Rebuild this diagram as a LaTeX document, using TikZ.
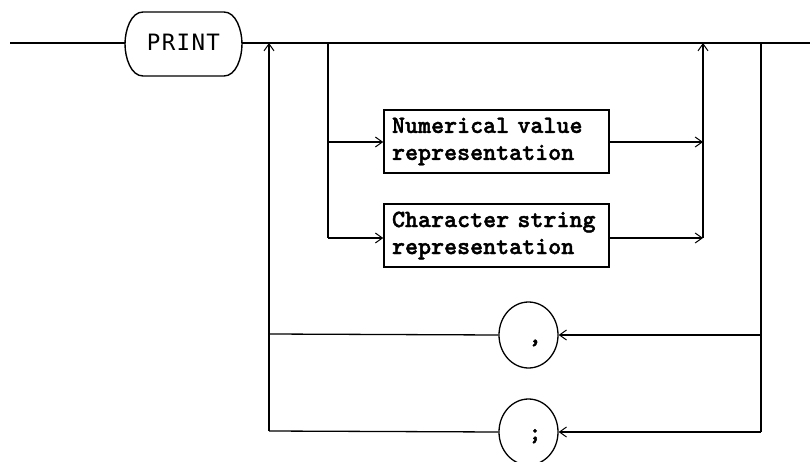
\documentclass[tikz,border=0pt]{standalone}
\usepackage{fontspec}
\newfontfamily\printfont[LetterSpace=6]{DejaVu Sans Mono}
\newfontfamily\boxfont[FakeBold=1.6]{lmmonolt10-bold.otf}
\usetikzlibrary{arrows.meta,shapes.geometric}
\begin{document}
\begin{tikzpicture}[x=1pt,y=-1pt,
  line/.style={line width=1.3pt},
  arr/.style={line, -{Straight Barb[length=7pt,width=10pt,line width=1pt]}},
  termbox/.style={rectangle, minimum width=117pt, minimum height=64pt, inner sep=0pt},
  ntbox/.style={draw, line width=1.6pt, rectangle, minimum width=225pt, minimum height=63pt,
    text width=209pt, align=left, inner xsep=8pt, inner ysep=0pt,
    font=\boxfont\fontsize{24.8}{27}\selectfont},
  sym/.style={ellipse, draw, line width=1.3pt, minimum width=59pt, minimum height=66pt, inner sep=0pt,
    text height=16pt, text depth=0pt, font=\boxfont\fontsize{24.8}{26}\selectfont}
]
\fill[white] (0,0) rectangle (810,462);
\useasboundingbox (0,0) rectangle (810,462);

% nodes
\node[termbox, font=\printfont\fontsize{22.5}{24}\selectfont] (print) at (183.5,42) {PRINT};
\draw[line width=1.4pt] (143,12) -- (224,12) .. controls (236,12) and (242,30) .. (242,44)
  .. controls (242,58) and (236,76) .. (224,76) -- (143,76)
  .. controls (131,76) and (125,58) .. (125,44) .. controls (125,30) and (131,12) .. (143,12) -- cycle;
\node[ntbox] (num) at (496.5,141.5) {Numerical value\\representation};
\node[ntbox] (chr) at (496.5,235.5) {Character string\\representation};
\node[sym] (comma) at (528.5,335) {\phantom{x},};
\node[sym] (semi) at (528.5,432) {\phantom{x};};

% junction coordinates
\coordinate (start) at (10,43);
\coordinate (pw) at (125,43);
\coordinate (pe) at (242,43);
\coordinate (j1) at (269,43);
\coordinate (j2) at (328,43);
\coordinate (j3) at (703,43);
\coordinate (j4) at (761,43);
\coordinate (stop) at (810,43);
\coordinate (b1) at (328,142);
\coordinate (b2) at (328,238);
\coordinate (m1) at (703,142);
\coordinate (m2) at (703,238);
\coordinate (l1) at (269,334);
\coordinate (l2) at (269,431);
\coordinate (r1) at (761,335);
\coordinate (r2) at (761,432);

% main line
\draw[line] (start) -- (pw);
\draw[line] (pe) -- (stop);

% branch to boxes
\draw[line] (j2) -- (b2);
\draw[arr] (b1) -- (b1 -| num.west);
\draw[arr] (b2) -- (b2 -| chr.west);

% merge
\draw[arr] (b1 -| num.east) -- (m1);
\draw[arr] (b2 -| chr.east) -- (m2);
\draw[arr] (m2) -- (j3);

% repetition loops
\draw[line] (j4) -- (r2);
\draw[arr] (r1) -- (comma.east);
\draw[arr] (r2) -- (semi.east);
\draw[line] (comma.west) -- (l1);
\draw[line] (semi.west) -- (l2);
\draw[arr] (l2) -- (j1);
\end{tikzpicture}
\end{document}
